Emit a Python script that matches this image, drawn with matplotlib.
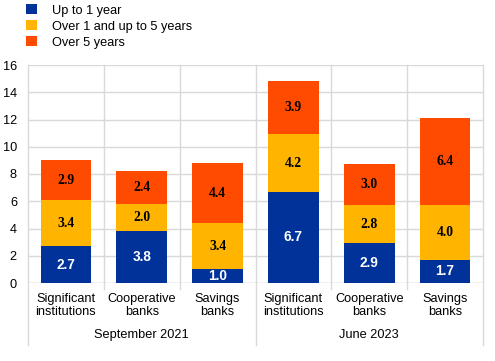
import matplotlib
matplotlib.use("Agg")
import matplotlib.pyplot as plt
from matplotlib.patches import Patch
import matplotlib.transforms as mtransforms

categories = ["Significant\ninstitutions", "Cooperative\nbanks", "Savings\nbanks",
              "Significant\ninstitutions", "Cooperative\nbanks", "Savings\nbanks"]
groups = ["September 2021", "June 2023"]
series_names = ["Up to 1 year", "Over 1 and up to 5 years", "Over 5 years"]
up_to_1 = [2.7, 3.8, 1.0, 6.7, 2.9, 1.7]
one_to_5 = [3.4, 2.0, 3.4, 4.2, 2.8, 4.0]
over_5 = [2.9, 2.4, 4.4, 3.9, 3.0, 6.4]
colors = ["#003299", "#FFB400", "#FF4B00"]
label_colors = ["white", "black", "black"]

plt.rcParams['font.family'] = ['Liberation Sans', 'DejaVu Sans']
fig = plt.figure(figsize=(4.95, 3.61), dpi=100)
W, H = 495, 361
ax = fig.add_axes([28 / W, (H - 283) / H, (483 - 28) / W, (283 - 65) / H])

x = list(range(len(categories)))
grid_c = "#d9d9d9"
fs = 9.2
ax.set_ylim(0, 16)
ax.set_xlim(-0.5, 5.5)
ax.set_yticks(range(0, 17, 2))
ax.yaxis.grid(True, color=grid_c, linewidth=1)
ax.set_axisbelow(True)
for s in ax.spines.values():
    s.set_visible(False)
ax.tick_params(axis='y', length=0, labelsize=fs, pad=8)
ax.tick_params(axis='x', length=0, labelsize=fs, pad=7)
ax.set_xticks(x)
ax.set_xticklabels(categories, linespacing=1.1)

# vertical separators
trans = mtransforms.blended_transform_factory(ax.transData, ax.transAxes)
for b in [-0.5, 0.5, 1.5, 2.5, 3.5, 4.5, 5.5]:
    major = b in (-0.5, 2.5, 5.5)
    ymin = -62 / 218 if major else -6 / 218
    ax.plot([b, b], [ymin, 1], transform=trans, color=grid_c, lw=1, clip_on=False, zorder=0)
ax.plot([-0.5, 5.5], [0, 0], color=grid_c, lw=1, zorder=0.5)

bottom = [0] * len(x)
for vals, c, lc, name in zip([up_to_1, one_to_5, over_5], colors, label_colors, series_names):
    ax.bar(x, vals, bottom=bottom, width=0.67, color=c, label=name, zorder=2,
           edgecolor='none')
    for xi, v, b in zip(x, vals, bottom):
        fam = ['Liberation Sans'] if lc == 'white' else ['Liberation Serif']
        ax.text(xi, b + v / 2, f"{v:.1f}", ha='center', va='center', color=lc,
                fontsize=9.8, fontweight='bold', family=fam, zorder=3)
    bottom = [b + v for b, v in zip(bottom, vals)]

for gi, g in enumerate(groups):
    ax.text(1 + 3 * gi, -52 / 218, g, transform=trans, ha='center', va='center', fontsize=fs)

handles = [Patch(facecolor=c, edgecolor='none') for c in colors]
fig.legend(handles, series_names, loc='upper left', bbox_to_anchor=(21 / W, 1 + 1 / H),
           frameon=False, fontsize=fs, handlelength=0.85, handleheight=0.85,
           handletextpad=1.2, labelspacing=0.28, borderaxespad=0)

fig.savefig("out.png", dpi=100)
